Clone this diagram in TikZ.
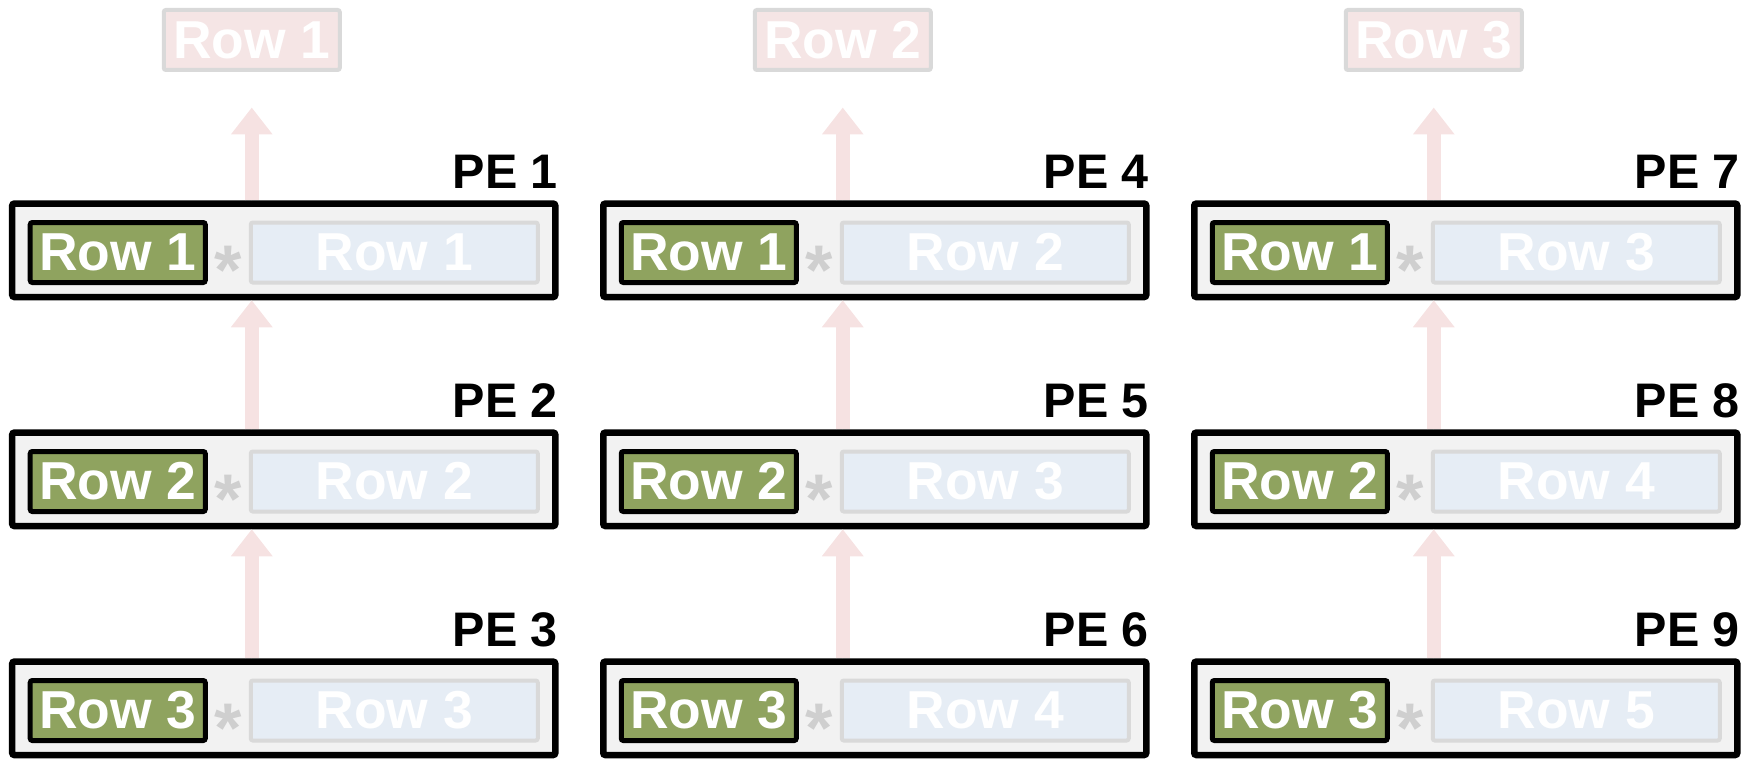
\documentclass[tikz,border=0pt]{standalone}
\usepackage{fontspec}
\setmainfont{Liberation Sans}
\usetikzlibrary{arrows.meta,positioning,fit,backgrounds,calc}
\definecolor{leaf}{HTML}{8FA35F}
\definecolor{pebg}{HTML}{F2F2F2}
\definecolor{ghost}{HTML}{E6EDF5}
\definecolor{rim}{HTML}{D9D9D9}
\definecolor{blush}{HTML}{F5E5E5}
\definecolor{flow}{HTML}{F6E2E2}
\definecolor{opgrey}{HTML}{CFCFCF}

\begin{document}
\begin{tikzpicture}[
  cell/.style={draw=black,fill=leaf,line width=0.5mm,rounded corners=0.6pt,
               minimum width=17.5mm,minimum height=6mm,inner sep=0pt,
               text=white,font=\fontsize{15.2}{17}\selectfont\bfseries},
  other/.style={cell,draw=rim,fill=ghost,line width=0.4mm,minimum width=28.7mm},
  faded/.style={cell,draw=rim,fill=blush,line width=0.4mm,minimum width=17.6mm},
  pe/.style={draw=black,fill=pebg,line width=0.65mm,rounded corners=0.6pt,
             inner xsep=1.55mm,inner ysep=1.42mm,yshift=0.22mm},
  mult/.style={text=opgrey,font=\fontsize{20}{20}\selectfont\bfseries,
               inner sep=0pt,yshift=-1.75mm},
  arr/.style={-{Triangle[length=2.7mm,width=4mm]},draw=flow,fill=flow,line width=1.35mm},
  lab/.style={font=\fontsize{13.8}{16}\selectfont\bfseries,inner sep=0pt}
]
\useasboundingbox (-11.775mm,-50.65mm) rectangle (163.425mm,25.25mm);
% one PE per column and row
\foreach \col in {0,1,2}{
  \foreach \row in {1,2,3}{
    \pgfmathtruncatemacro{\pid}{3*\col+\row}
    \pgfmathtruncatemacro{\oid}{\col+\row}
    \node[cell] (g\pid) at ({\col*59.1mm},{(1-\row)*22.9mm}) {Row \row};
    \node[other,right=4.1mm of g\pid] (b\pid) {Row \oid};
    \node[mult] (s\pid) at ($(g\pid.east)!0.5!(b\pid.west)$) {*};
    \begin{scope}[on background layer]
      \node[pe,fit=(g\pid)(b\pid)] (pe\pid) {};
    \end{scope}
    \node[lab,above left=1.1mm and 0pt of pe\pid.north east] {PE \pid};
  }
}
% results leaving each column
\foreach \col in {1,2,3}{
  \pgfmathtruncatemacro{\ta}{3*\col-2}
  \pgfmathtruncatemacro{\tb}{3*\col-1}
  \pgfmathtruncatemacro{\tc}{3*\col}
  \node[faded,above=14.85mm of b\ta.north west,xshift=0.3mm] (top\col) {Row \col};
  \coordinate[below=3.55mm of top\col] (tip\col);
  \begin{scope}[on background layer]
    \draw[arr] (top\col |- pe\ta.north) -- (tip\col);
    \draw[arr] (top\col |- pe\tb.north) -- (top\col |- pe\ta.south);
    \draw[arr] (top\col |- pe\tc.north) -- (top\col |- pe\tb.south);
  \end{scope}
}
\end{tikzpicture}
\end{document}
